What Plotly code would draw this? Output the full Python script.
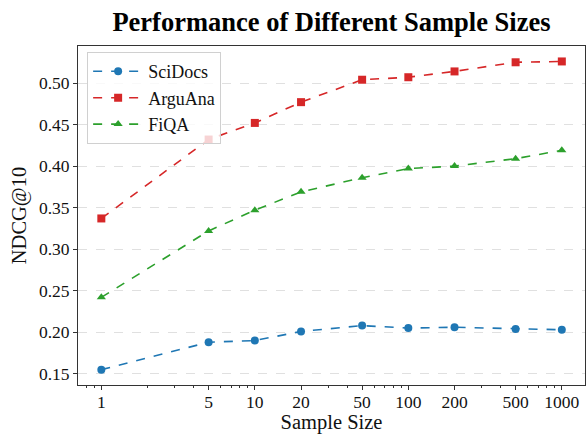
import plotly.graph_objects as go

sample_sizes = [1, 5, 10, 20, 50, 100, 200, 500, 1000]
scidocs = [0.155, 0.188, 0.190, 0.201, 0.208, 0.205, 0.206, 0.204, 0.203]
arguana = [0.337, 0.432, 0.452, 0.477, 0.504, 0.507, 0.514, 0.525, 0.526]
fiqa = [0.242, 0.322, 0.347, 0.369, 0.386, 0.397, 0.400, 0.409, 0.419]
x_tick_labels = ["1", "5", "10", "20", "50", "100", "200", "500", "1000"]
y_ticks = [0.15, 0.20, 0.25, 0.30, 0.35, 0.40, 0.45, 0.50]

series = [
    ("SciDocs", scidocs, "#1f77b4", "circle"),
    ("ArguAna", arguana, "#d62728", "square"),
    ("FiQA", fiqa, "#2ca02c", "triangle-up"),
]

# minor log ticks (matplotlib style): every k*10^d not already a major tick
minor_vals = []
for d in [-1, 0, 1, 2, 3]:
    for k in range(1, 10):
        v = k * 10 ** d
        if 0.7 <= v <= 1400 and not any(abs(v - s) < 1e-9 for s in sample_sizes):
            minor_vals.append(v)

fig = go.Figure()
for name, vals, color, sym in series:
    fig.add_trace(go.Scatter(
        x=sample_sizes, y=vals, name=name, mode="lines+markers",
        line=dict(color=color, width=1.6, dash="dash"),
        marker=dict(symbol=sym, size=8, color=color),
    ))

font_family = "Liberation Serif, Times New Roman, serif"
fig.update_layout(
    width=588, height=434,
    margin=dict(l=78, r=3, t=46, b=49),
    paper_bgcolor="white", plot_bgcolor="white",
    font=dict(family=font_family, size=16, color="#111"),
    title=dict(text="<b>Performance of Different Sample Sizes</b>",
               x=0.5637, xanchor="center", y=0.95, yanchor="middle",
               font=dict(size=26.5, family=font_family, color="#000")),
    showlegend=True,
    legend=dict(x=0.018, y=0.982, xanchor="left", yanchor="top",
                bgcolor="rgba(255,255,255,0.8)", bordercolor="#d0d0d0", borderwidth=1,
                font=dict(size=18, family=font_family), tracegroupgap=0,
                itemwidth=50),
)
fig.update_xaxes(
    type="log", range=[-0.152, 3.151],
    tickmode="array", tickvals=sample_sizes, ticktext=x_tick_labels,
    ticks="outside", ticklen=4, tickcolor="#333", showgrid=False,
    showline=True, linecolor="#333", linewidth=1, mirror=True,
    minor=dict(tickmode="array", tickvals=minor_vals, ticks="outside", ticklen=2,
               tickcolor="#333", showgrid=False),
    ticklabelstandoff=-3,
    title=dict(text="Sample Size", font=dict(size=20.5, family=font_family), standoff=6),
    tickfont=dict(size=17.5), zeroline=False,
)
fig.update_yaxes(
    range=[0.1365, 0.5446],
    tickmode="array", tickvals=y_ticks, tickformat=".2f",
    ticks="outside", ticklen=4, tickcolor="#333",
    showgrid=True, gridcolor="#e0e0e0", griddash="dash", gridwidth=1,
    showline=True, linecolor="#333", linewidth=1, mirror=True,
    title=dict(text="NDCG@10", font=dict(size=20.5, family=font_family), standoff=6),
    tickfont=dict(size=17.5), zeroline=False,
)

fig.write_html("out.html", config={"displayModeBar": False},
               post_script="document.body.style.margin='0px';")
